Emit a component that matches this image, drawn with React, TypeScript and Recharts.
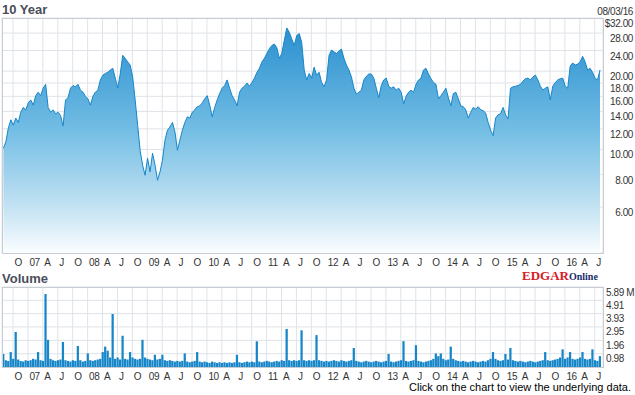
import { ComposedChart, Area, Bar, XAxis, YAxis, CartesianGrid } from "recharts";

// semi-monthly closes, Aug 2006 .. Aug 2016 (USD)
const prices = [
  10.1, 10.7, 12.1, 13.0, 12.4, 13.2, 12.7, 13.9, 14.5, 14.2,
  15.1, 15.5, 14.8, 16.1, 16.6, 16.1, 17.2, 17.8, 14.5, 13.9,
  14.2, 13.7, 13.9, 13.5, 12.3, 15.5, 15.8, 17.2, 17.6, 17.4,
  17.8, 16.9, 16.6, 16.0, 15.65, 14.8, 16.0, 16.6, 16.9, 18.5,
  19.3, 19.6, 19.8, 20.2, 20.5, 18.8, 17.2, 19.5, 23.0, 22.4,
  21.7, 21.1, 19.0, 15.5, 12.4, 9.93, 8.7, 7.96, 9.25, 8.2,
  9.67, 8.7, 7.61, 8.2, 9.09, 10.85, 11.86, 12.2, 12.7, 11.7,
  9.93, 10.85, 11.86, 12.7, 13.35, 13.2, 13.9, 14.2, 14.6, 14.7,
  15.1, 15.65, 16.1, 14.8, 13.35, 14.5, 15.5, 16.4, 17.2, 17.6,
  18.5, 17.2, 16.1, 15.5, 14.7, 16.6, 17.2, 17.5, 18.0, 17.5,
  18.1, 18.8, 19.8, 20.5, 21.7, 22.4, 23.4, 24.4, 25.1, 25.4,
  24.6, 22.4, 23.4, 26.3, 29.3, 28.2, 26.6, 25.1, 27.4, 27.9,
  25.8, 20.2, 18.5, 19.6, 18.8, 20.7, 19.3, 19.8, 18.1, 17.4,
  18.5, 23.0, 24.1, 23.7, 23.4, 23.9, 24.3, 22.4, 21.1, 20.2,
  19.0, 17.2, 16.3, 16.6, 16.9, 18.5, 19.1, 19.5, 19.5, 18.8,
  17.2, 15.8, 17.6, 18.5, 18.8, 17.5, 17.2, 17.4, 16.9, 17.2,
  16.6, 15.0, 16.0, 16.6, 16.9, 16.6, 17.8, 18.5, 18.8, 20.2,
  20.5, 19.5, 18.7, 18.1, 17.8, 15.65, 16.1, 16.6, 17.2, 15.8,
  14.7, 16.4, 16.6, 15.65, 14.7, 14.6, 14.2, 13.2, 13.9, 14.5,
  14.3, 14.6, 14.2, 14.1, 13.8, 12.7, 11.86, 11.3, 13.2, 13.6,
  13.7, 14.5, 13.6, 13.1, 17.2, 17.4, 17.5, 17.6, 17.8, 18.3,
  18.7, 18.8, 18.5, 19.0, 19.3, 18.5, 17.5, 16.9, 17.2, 17.4,
  15.5, 17.5, 18.1, 18.5, 18.7, 18.8, 17.5, 17.2, 20.9, 21.5,
  21.1, 21.3, 21.7, 22.8, 21.7, 20.2, 20.5, 19.8, 18.8, 18.5,
  20.2,
];

// volume in millions, same sampling
const volumes = [
  0.96, 0.5, 0.45, 1.1, 0.6, 2.58, 0.55, 0.45, 0.4, 0.5,
  0.45, 0.5, 0.6, 0.55, 1.1, 0.5, 0.45, 5.37, 2.0, 0.6,
  0.5, 0.45, 0.5, 0.55, 1.84, 0.5, 0.45, 0.4, 0.5, 0.45,
  1.55, 0.5, 0.4, 0.45, 1.0, 0.5, 0.45, 0.5, 0.55, 0.6,
  1.1, 1.5, 1.2, 0.7, 3.9, 0.6, 0.7, 0.55, 2.3, 0.6,
  0.55, 1.1, 0.7, 0.6, 0.55, 0.6, 2.0, 0.7, 0.6, 0.55,
  0.5, 0.9, 0.55, 0.6, 0.9, 0.5, 0.45, 0.5, 0.45, 0.4,
  0.45, 0.4, 0.45, 1.0, 0.4, 0.35, 0.4, 0.45, 1.1, 0.4,
  0.35, 0.4, 0.35, 0.3, 0.4, 0.35, 0.3, 0.35, 0.3, 0.35,
  0.3, 0.35, 0.3, 0.35, 0.9, 0.35, 0.3, 0.35, 0.4, 0.35,
  0.4, 0.35, 1.9, 0.4, 0.35, 0.4, 0.45, 0.4, 0.35, 0.4,
  0.45, 0.4, 0.5, 0.45, 2.8, 0.5, 0.45, 0.5, 0.45, 0.5,
  2.7, 0.5, 0.45, 0.5, 0.45, 0.5, 2.35, 0.5, 0.45, 0.4,
  0.45, 0.4, 0.45, 0.5, 0.45, 0.4, 0.5, 0.45, 0.4, 0.45,
  0.5, 1.4, 0.45, 0.4, 0.35, 0.4, 0.45, 0.4, 0.35, 0.4,
  0.45, 0.4, 0.35, 0.4, 0.45, 0.96, 0.4, 0.35, 0.4, 0.45,
  0.5, 1.9, 0.45, 0.4, 0.45, 0.5, 1.6, 0.45, 0.4, 0.35,
  0.4, 0.45, 0.5, 0.6, 1.0, 0.8, 1.0, 0.6, 0.5, 0.55,
  1.5, 0.6, 0.5, 0.45, 0.4, 0.45, 0.4, 0.35, 0.4, 0.45,
  0.4, 0.35, 0.4, 0.45, 0.4, 0.5, 0.6, 1.1, 0.6, 0.5,
  0.45, 0.5, 0.96, 0.55, 1.4, 0.5, 0.45, 0.4, 0.45, 0.4,
  0.35, 0.4, 0.45, 0.4, 0.35, 0.4, 0.45, 0.5, 1.1, 0.5,
  0.45, 0.5, 0.55, 0.6, 0.7, 1.3, 0.6, 0.7, 1.1, 0.6,
  0.55, 0.6, 0.7, 1.1, 0.6, 0.55, 0.6, 1.3, 0.5, 0.45,
  0.8,
];

const quarterLabels = [
  "O",
  "07", "A", "J", "O", "08", "A", "J", "O", "09", "A", "J", "O",
  "10", "A", "J", "O", "11", "A", "J", "O", "12", "A", "J", "O",
  "13", "A", "J", "O", "14", "A", "J", "O", "15", "A", "J", "O",
  "16", "A", "J",
];

const priceTicks = [6, 8, 10, 12, 14, 16, 18, 20, 24, 28, 32];
const volumeTicks = [0.98, 1.96, 2.95, 3.93, 4.91, 5.89];

// months since 08/03/06
const quarterTicks = quarterLabels.map((_, k) => 1.94 + 3 * k);
const rows = prices.map((p, i) => ({ m: i / 2, price: p, vol: volumes[i] }));

const X_DOMAIN: [number, number] = [-0.28, 120.6];
const GRID = "#dfe3e8";
const BORDER = "#c8cdd3";
const BLUE = "#1786c8";
const tickFont = { fontFamily: "'Liberation Sans', Arial, sans-serif", fontSize: 10, letterSpacing: -0.4 };

const xTick = (baseline: number) => (props: any) => (
  <text x={props.x + 1.5} y={baseline} textAnchor="start" fill="#333" style={tickFont}>
    {quarterLabels[props.index]}
  </text>
);

const priceTick = (props: any) => {
  const v = props.payload.value;
  return (
    <text x={633} y={props.y + 9} textAnchor="end" fill="#333" style={tickFont}>
      {(v === 32 ? "$" : "") + v.toFixed(2)}
    </text>
  );
};

const volTick = (props: any) => {
  const v = props.payload.value;
  return (
    <text x={606} y={props.y + 8.5} textAnchor="start" fill="#333" style={tickFont}>
      {v.toFixed(2) + (v === 5.89 ? " M" : "")}
    </text>
  );
};

export default function App() {
  return (
    <div style={{ position: "absolute", left: 0, top: 0, width: 635, height: 395, background: "#fff" }}>
      <div style={{ position: "absolute", left: 0, top: 0 }}>
        <ComposedChart width={635} height={270} data={rows} margin={{ top: 18, right: 0, left: 2, bottom: 0 }}>
          <defs>
            <linearGradient id="pg" x1="0" y1="0" x2="0" y2="1">
              <stop offset="0%" stopColor="#2a8fcf" />
              <stop offset="45%" stopColor="#72bde4" />
              <stop offset="80%" stopColor="#c4e3f3" />
              <stop offset="100%" stopColor="#fbfdff" />
            </linearGradient>
          </defs>
          <CartesianGrid stroke={GRID} strokeWidth={1} />
          <XAxis
            dataKey="m"
            type="number"
            domain={X_DOMAIN}
            allowDataOverflow
            ticks={quarterTicks}
            interval={0}
            height={17}
            axisLine={false}
            tickLine={false}
            tick={xTick(266)}
          />
          <YAxis
            orientation="right"
            scale="log"
            domain={[4, 32]}
            allowDataOverflow
            ticks={priceTicks}
            interval={0}
            width={32}
            axisLine={false}
            tickLine={false}
            tick={priceTick}
          />
          <Area
            type="linear"
            dataKey="price"
            stroke={BLUE}
            strokeWidth={1}
            fill="url(#pg)"
            fillOpacity={1}
            baseValue={4}
            isAnimationActive={false}
            dot={false}
            activeDot={false}
          />
        </ComposedChart>
      </div>
      <div style={{ position: "absolute", left: 0, top: 280 }}>
        <ComposedChart
          width={635}
          height={110}
          data={rows}
          margin={{ top: 7, right: 0, left: 2, bottom: 0 }}
          barCategoryGap={0}
          barGap={0}
        >
          <CartesianGrid stroke={GRID} strokeWidth={1} />
          <XAxis
            dataKey="m"
            type="number"
            domain={X_DOMAIN}
            allowDataOverflow
            ticks={quarterTicks}
            interval={0}
            height={23}
            axisLine={false}
            tickLine={false}
            tick={xTick(100)}
          />
          <YAxis
            orientation="right"
            domain={[0, 5.89]}
            allowDataOverflow
            ticks={volumeTicks}
            interval={0}
            width={32}
            axisLine={false}
            tickLine={false}
            tick={volTick}
          />
          <Bar dataKey="vol" fill={BLUE} barSize={3} isAnimationActive={false} />
        </ComposedChart>
      </div>
      <svg
        width={635}
        height={395}
        style={{ position: "absolute", left: 0, top: 0, pointerEvents: "none" }}
      >
        <rect x={2.5} y={18.5} width={601} height={235} fill="none" stroke={BORDER} />
        <rect x={2.5} y={287.5} width={601} height={80} fill="none" stroke={BORDER} />
        <text x={2} y={14} fill="#4a4e5a" style={{ fontFamily: "'Liberation Sans', Arial, sans-serif", fontSize: 13, fontWeight: "bold" }}>
          10 Year
        </text>
        <text x={633} y={15} textAnchor="end" fill="#333" style={tickFont}>
          08/03/16
        </text>
        <text x={2} y={283} fill="#4a4e5a" style={{ fontFamily: "'Liberation Sans', Arial, sans-serif", fontSize: 13, fontWeight: "bold" }}>
          Volume
        </text>
        <text x={522} y={280} fill="#d42027" style={{ fontFamily: "'Liberation Serif', serif", fontSize: 13, fontWeight: "bold" }}>
          EDGAR
          <tspan fill="#1b2d6b" style={{ fontSize: 10 }}>Online</tspan>
        </text>
        <text x={631} y={391} textAnchor="end" fill="#000" style={{ fontFamily: "'Liberation Sans', Arial, sans-serif", fontSize: 11 }}>
          Click on the chart to view the underlying data.
        </text>
      </svg>
    </div>
  );
}
